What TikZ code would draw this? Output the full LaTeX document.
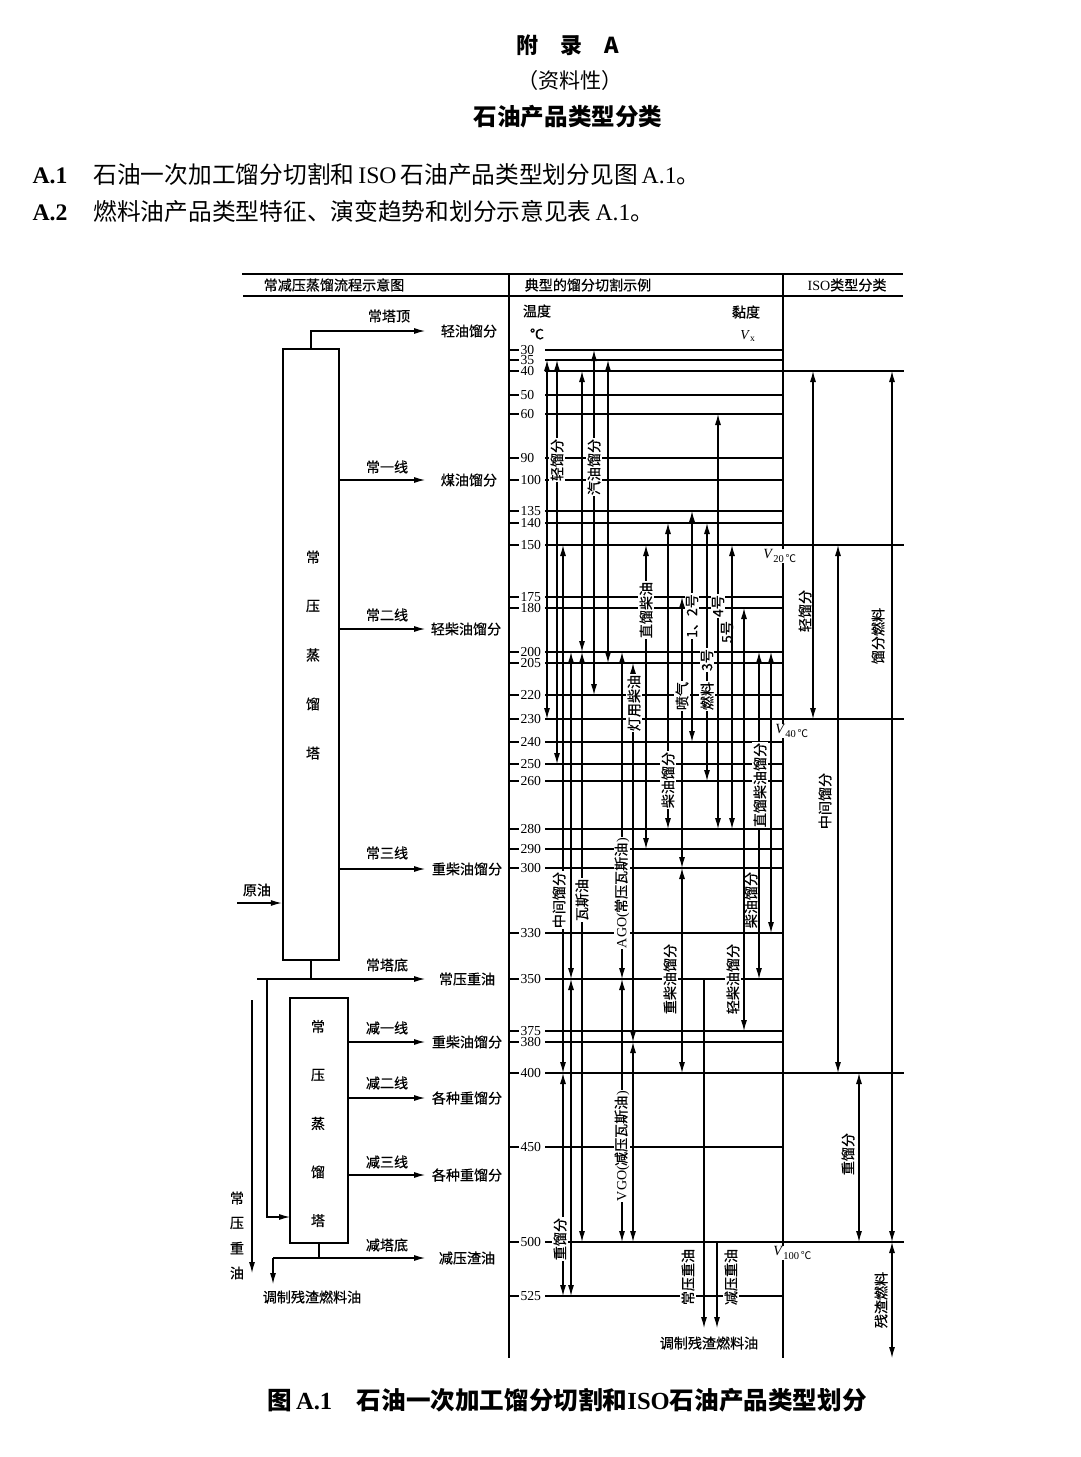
\documentclass[tikz,border=0pt]{standalone}
\usepackage{fontspec}
\setmainfont{Liberation Serif}
\newfontfamily\cjk{Noto Sans CJK SC}
\newfontfamily\cjkm{Noto Sans CJK SC}[FakeBold=0.6]
\usetikzlibrary{arrows.meta}

\tikzset{
  tip/.style={-{Latex[length=2.2mm,width=1.2mm]}},
  dbl/.style={{Latex[length=2.2mm,width=1.2mm]}-{Latex[length=2.2mm,width=1.2mm]}},
  lab/.style={font=\cjkm\fontsize{8}{9}\selectfont, inner sep=0.6pt},
  vlab/.style={lab, rotate=90, fill=white},
  rlab/.style={lab, rotate=90},
  num/.style={anchor=west, inner sep=0pt, font=\fontsize{7.8}{9}\selectfont},
  vis/.style={anchor=west, fill=white, inner sep=0.5pt, font=\fontsize{8}{9}\selectfont},
  tower/.style={draw, line width=1.4pt, inner sep=0pt}
}
\newcommand{\vseg}[4][dbl]{\draw[#1] (#2,0 |- T#3) -- (#2,0 |- T#4);}

\begin{document}
\begin{tikzpicture}[x=0.02cm, y=-0.02cm, line width=0.6pt]
\useasboundingbox (0,0) rectangle (1080,1457);

% page text
\node[font=\cjk\bfseries\fontsize{12.5}{14}\selectfont] (ttl1) at (568,45) {附\quad 录\quad A};
\node[font=\cjk\fontsize{12}{14}\selectfont] (ttl2) at (570,80) {（资料性）};
\node[font=\cjk\bfseries\fontsize{13.4}{15}\selectfont] (ttl3) at (568,117) {石油产品类型分类};
\node[anchor=west, inner sep=0pt, font=\fontsize{13.5}{15}\selectfont] (pa1) at (32,175)
  {\textbf{A.1}\hspace{1.1em}{\cjk 石油一次加工馏分切割和}\,ISO\,{\cjk 石油产品类型划分见图}\,A.1{\cjk 。}};
\node[anchor=west, inner sep=0pt, font=\fontsize{13.5}{15}\selectfont] (pa2) at (32,211)
  {\textbf{A.2}\hspace{1.1em}{\cjk 燃料油产品类型特征、演变趋势和划分示意见表}\,A.1{\cjk 。}};
\node[font=\fontsize{14}{16}\selectfont] (cap) at (567,1400)
  {{\cjk\bfseries 图}\,\textbf{A.1}\hspace{1em}{\cjk\bfseries 石油一次加工馏分切割和}\textbf{ISO}{\cjk\bfseries 石油产品类型划分}};

% table frame
\draw (242,274) -- (903,274) (243,296) -- (903,296);
\draw (509,274) -- (509,1358) (783,274) -- (783,1358);
\node[lab] (h1) at (334,285) {常减压蒸馏流程示意图};
\node[lab] (h2) at (588,285) {典型的馏分切割示例};
\node[lab] (h3) at (847,285) {\textrm{ISO}类型分类};
\node[lab] (tmp) at (537,311) {温度};
\node[lab] (deg) at (537,334) {℃};
\node[lab] (vis) at (746,312) {黏度};
\node[num, anchor=center] (vx) at (748,336) {\textit{V}\textsubscript{x}};

% temperature grid
\foreach \t/\y in {30/350,35/360,40/371,50/395,60/414,90/458,100/480,135/511,140/523,
  150/545,175/597,180/608,200/652,205/663,220/695,230/719,240/742,250/764,260/781,
  280/829,290/849,300/868,330/933,350/979,375/1031,380/1042,400/1073,450/1147,
  500/1242,525/1296}{
  \coordinate (T\t) at (509,\y);
  \draw (509,\y) -- (519,\y) (545,\y) -- (783,\y);
  \node[num] (n\t) at (520,\y) {\t};
}
\foreach \t in {40,150,230,400,500}
  \draw (783,0 |- T\t) -- (904,0 |- T\t);

% labels beside the lines
\node[vlab] (l5) at (727,632) {5号};
\node[vlab] (lcy) at (751,900) {柴油馏分};
\node[vlab] (lzc) at (670,979) {重柴油馏分};
\node[vlab] (lqc) at (733,979) {轻柴油馏分};
\node[vlab] (lcz) at (688,1277) {常压重油};
\node[vlab] (ljz) at (731,1277) {减压重油};

% cut ranges
\vseg{547}{35}{230}
\vseg{557}{35}{250}
\vseg{563}{150}{400} \vseg{563}{400}{525}
\vseg{571}{200}{350} \vseg{571}{350}{525}
\vseg{582}{40}{200}  \vseg{582}{200}{500}
\vseg{594}{30}{220}
\vseg{608}{35}{205}
\vseg{622}{200}{350} \vseg{622}{350}{500}
\vseg{633}{205}{380} \vseg{633}{380}{500}
\vseg{646}{150}{290}
\vseg{668}{140}{280}
\vseg{682}{175}{300} \vseg{682}{300}{400}
\vseg{692}{135}{240}
\vseg{707}{140}{260}
\vseg{718}{60}{280}
\vseg{732}{150}{280}
\vseg{744}{180}{375}
\vseg{759}{200}{350}
\vseg{771}{200}{330}
\coordinate (e1) at (704,1328);
\coordinate (e2) at (717,1328);
\draw[tip] (704,0 |- T350) -- (e1);
\draw[tip] (717,0 |- T500) -- (e2);
\node[lab] (blend2) at (709,1343) {调制残渣燃料油};

% labels on the lines
\node[vlab] (lq) at (557,460) {轻馏分};
\node[vlab] (lqy) at (594,467) {汽油馏分};
\node[vlab] (lzl) at (646,610) {直馏柴油};
\node[vlab] (l12) at (692,616) {1、2号};
\node[vlab] (l4) at (718,606) {4号};
\node[vlab] (l3) at (707,660) {3号};
\node[vlab] (lpq) at (682,696) {喷气};
\node[vlab] (lrl) at (707,696) {燃料};
\node[vlab] (ldy) at (634,703) {灯用柴油};
\node[vlab] (lcy2) at (668,780) {柴油馏分};
\node[vlab] (lzlc) at (760,785) {直馏柴油馏分};
\node[vlab] (lzj) at (559,900) {中间馏分};
\node[vlab] (lws) at (582,900) {瓦斯油};
\node[vlab] (lago) at (622,893) {\textrm{AGO(}常压瓦斯油\textrm{)}};
\node[vlab] (lvgo) at (622,1146) {\textrm{VGO(}减压瓦斯油\textrm{)}};
\node[vlab] (lzh) at (560,1239) {重馏分};
\node[vis] (v20) at (762,556) {\textit{V}\textsubscript{20\,{\cjk ℃}}};
\node[vis] (v40) at (774,731) {\textit{V}\textsubscript{40\,{\cjk ℃}}};
\node[vis] (v100) at (772,1253) {\textit{V}\textsubscript{100\,{\cjk ℃}}};

% ISO classes
\vseg{813}{40}{230}
\vseg{838}{150}{400}
\vseg{859}{400}{500}
\vseg{892}{40}{500}
\coordinate (e3) at (892,1358);
\draw[dbl] (892,0 |- T500) -- (e3);
\node[rlab] (iq) at (805,611) {轻馏分};
\node[rlab] (ilf) at (878,636) {馏分燃料};
\node[rlab] (izj) at (825,801) {中间馏分};
\node[rlab] (izh) at (848,1154) {重馏分};
\node[rlab] (izr) at (881,1300) {残渣燃料};

% process scheme
\node[tower, minimum width=1.12cm, minimum height=12.22cm] (atm) at (311,654.5) {};
\node[tower, minimum width=1.16cm, minimum height=4.9cm] (vac) at (319,1120.5) {};
\foreach \c [count=\i] in {常,压,蒸,馏,塔}{
  \node[lab] (ta\i) at (313,508+49*\i) {\c};
  \node[lab] (tv\i) at (318,978+48.5*\i) {\c};
}
\coordinate (tipx) at (425,0);
\node[lab] (lgt) at (469,331) {轻油馏分};
\node[lab] (kero) at (469,480) {煤油馏分};
\node[lab] (lgas) at (466,629) {轻柴油馏分};
\node[lab] (hgas) at (467,869) {重柴油馏分};
\node[lab] (ares) at (467,979) {常压重油};
\node[lab] (vgas) at (467,1042) {重柴油馏分};
\node[lab] (vh2) at (467,1098) {各种重馏分};
\node[lab] (vh3) at (467,1175) {各种重馏分};
\node[lab] (vres) at (467,1258) {减压渣油};
\node[lab] (s0) at (389,316) {常塔顶};
\node[lab] (s1) at (387,467) {常一线};
\node[lab] (s2) at (387,615) {常二线};
\node[lab] (s3) at (387,853) {常三线};
\node[lab] (s4) at (387,965) {常塔底};
\node[lab] (s5) at (387,1028) {减一线};
\node[lab] (s6) at (387,1083) {减二线};
\node[lab] (s7) at (387,1162) {减三线};
\node[lab] (s8) at (387,1245) {减塔底};
\draw[tip] (atm.north) |- (tipx |- lgt);
\draw[tip] (atm.east |- kero) -- (tipx |- kero);
\draw[tip] (atm.east |- lgas) -- (tipx |- lgas);
\draw[tip] (atm.east |- hgas) -- (tipx |- hgas);
\draw[tip] (vac.east |- vgas) -- (tipx |- vgas);
\draw[tip] (vac.east |- vh2) -- (tipx |- vh2);
\draw[tip] (vac.east |- vh3) -- (tipx |- vh3);

% crude oil feed
\node[lab] (crude) at (257,890) {原油};
\coordinate (cin) at (237,903);
\draw[tip] (cin) -- (atm.west |- cin);

% atmospheric residue
\coordinate (abot) at (atm.south |- ares);
\coordinate (aleft) at (257,979);
\coordinate (bra) at (267,979);
\coordinate (vin) at (290,1217);
\draw (atm.south) -- (abot);
\draw[tip] (aleft) -- (tipx |- ares);
\draw[tip] (bra) |- (vin);
\coordinate (rtop) at (252,1000);
\coordinate (rbot) at (252,1273);
\draw[tip] (rtop) -- (rbot);
\foreach \c [count=\i] in {常,压,重,油}
  \node[lab] (r\i) at (237,1173+25*\i) {\c};

% vacuum residue
\coordinate (vbot) at (vac.south |- vres);
\coordinate (vleft) at (273,1258);
\coordinate (vdown) at (273,1284);
\draw (vac.south) -- (vbot);
\draw[tip] (vleft) -- (tipx |- vres);
\draw[tip] (vleft) -- (vdown);
\node[lab] (blend) at (312,1297) {调制残渣燃料油};
\end{tikzpicture}
\end{document}
